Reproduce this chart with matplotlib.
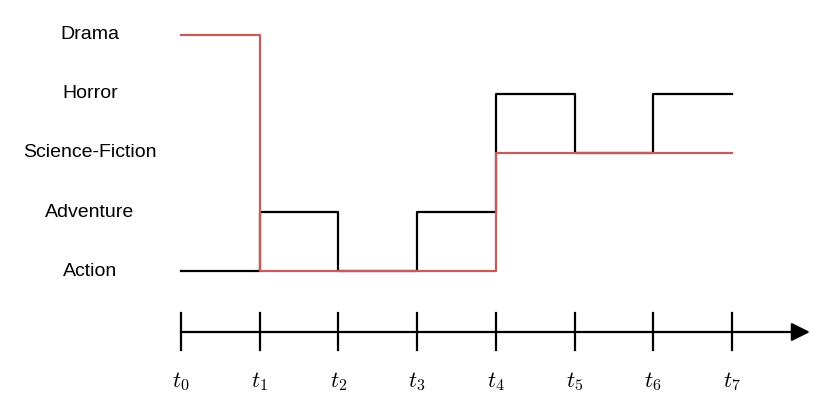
import matplotlib
matplotlib.use('Agg')
import matplotlib.pyplot as plt

genres = ['Action', 'Adventure', 'Science-Fiction', 'Horror', 'Drama']
times = [0, 1, 2, 3, 4, 5, 6, 7]
time_labels = ['$t_%d$' % i for i in times]
# genre index at each time step (step "post")
black_path = [0, 1, 0, 1, 3, 2, 3, 3]
red_path = [4, 0, 0, 0, 2, 2, 2, 2]

plt.rcParams['mathtext.fontset'] = 'cm'

fig = plt.figure(figsize=(8.3, 4.18), dpi=100)
ax = fig.add_axes([0, 0, 1, 1])
ax.set_xlim(-2.2996, 8.2455)
ax.set_ylim(-2.4915, 4.5932)
ax.axis('off')

ax.step(times, black_path, where='post', color='black', lw=1.6)
ax.step(times, red_path, where='post', color='#c85a5a', lw=1.6)

for i, g in enumerate(genres):
    ax.text(-1.156, i, g, ha='center', va='center', fontsize=14,
            family='Liberation Sans')

# timeline
axis_y = -1.034
ax.annotate('', xy=(7.99, axis_y), xytext=(times[0], axis_y),
            arrowprops=dict(arrowstyle='-|>', color='black', lw=1.6,
                            mutation_scale=28, shrinkA=0, shrinkB=0))
for t, lab in zip(times, time_labels):
    ax.plot([t, t], [-0.712, -1.339], color='black', lw=1.6)
    ax.text(t, -1.881, lab, ha='center', va='center', fontsize=16.5)

fig.savefig('out.png', dpi=100)
plt.close(fig)
